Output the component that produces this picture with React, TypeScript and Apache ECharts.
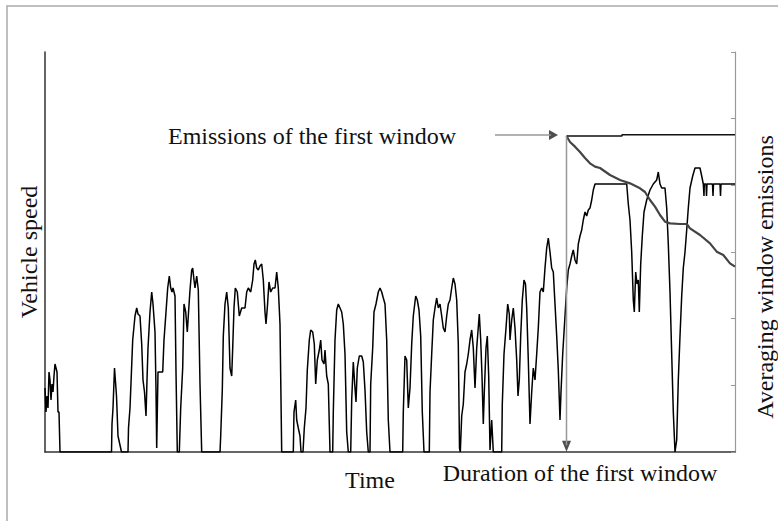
import React, { useEffect, useRef } from "react";
import * as echarts from "echarts";

// Time axis (arbitrary units) and value ranges
const timeRange = [0, 690];
const speedRange = [0, 100];
const emissionRange = [0, 6];

// Vehicle speed trace: [time, speed]
const speedTrace: number[][] = [
  [0, 16], [1, 10], [2, 14], [3, 11], [4, 20], [5, 18], [6, 13], [7, 17], [8, 15], [9, 19], [10, 22], [11, 21], [12, 20], [13, 10], [14, 10], [15, 0],
  [66.5, 0], [67, 7], [68, 11], [69.5, 21], [70.5, 17.5], [71.5, 14], [73, 4], [76.5, 0],
  [83, 0], [83.5, 6], [85, 11], [87.7, 28], [90, 34], [91.7, 36], [93, 34.5], [95, 34], [96.7, 27], [98, 18], [99.5, 15], [101, 9], [102, 18], [103, 26], [105, 35], [106.7, 40], [108, 37], [110, 30], [111, 15.5], [111.7, 1], [113, 20], [115, 20], [117.7, 20], [119, 28], [121, 35], [122.7, 41], [124.3, 44], [125.7, 41], [127, 40], [128, 41], [130, 39], [131, 20], [132.3, 0], [134.3, 0], [135.7, 11], [137.7, 21], [139, 37], [140.7, 35], [142.3, 30], [143.3, 34], [145, 40.5], [146.7, 45.5], [147.7, 46], [149, 43], [150, 41], [151.7, 44], [153.3, 40.5], [155, 17], [156.7, 0],
  [175, 0], [175.7, 4], [177.3, 15.5], [178.3, 29], [180, 37], [181.7, 40], [183.3, 36], [185, 21], [186.7, 19], [187.7, 26], [189, 36], [190.3, 41], [192.3, 40], [194.3, 34], [196.7, 36], [200, 36], [201.7, 40], [203.3, 41], [205.7, 40], [207.7, 43], [209, 47], [210.3, 48], [211.7, 46], [213.3, 45.5], [215, 46.5], [216.7, 47], [218.3, 43], [220, 35], [221, 32], [222.3, 36], [224, 42.5], [225.7, 40], [227.7, 41], [230, 41], [231.7, 45], [233.3, 41], [235, 32], [236.7, 0],
  [248.3, 0], [249, 10], [250.7, 13], [251.7, 8], [253.3, 6], [255, 4], [256, 0], [258, 0], [259.3, 6], [261, 11], [262.3, 20.5], [264.3, 28], [265.7, 30.5], [267.7, 30], [269.3, 27], [270.7, 17], [272.3, 23], [274.3, 25.5], [275.7, 28], [277, 23], [279, 22], [280, 25.5], [281.7, 19], [283.3, 17], [285, 0],
  [287.7, 0], [288.3, 10], [290, 28], [291.7, 35.5], [293.3, 37], [295, 36], [296.7, 35], [298.3, 32], [300, 24.5], [301.7, 5], [303.3, 0],
  [305.7, 0], [306.7, 13], [308.3, 22.5], [309.7, 17], [311, 12.5], [312.3, 21], [314.3, 24], [316.7, 24], [318.3, 22.5], [320, 15.5], [321.7, 5], [323.3, 0],
  [325, 0], [325.7, 17], [327.7, 26], [329, 35], [331, 37], [333.3, 40], [335, 41], [336.7, 40], [338.3, 38.5], [340, 37], [341.7, 28], [343.3, 8], [345, 0],
  [357.7, 0], [358.3, 10], [360, 24], [361.7, 23], [363.3, 11], [365, 16], [366.7, 27], [368.3, 34], [370.7, 39], [372.3, 38], [374, 35.5], [375.7, 29], [377.3, 10], [379, 0],
  [384.3, 0], [385, 15], [386.7, 24.5], [388.3, 33], [390, 36], [391.7, 38.5], [393.3, 36], [395, 37], [396.7, 34], [398.3, 31], [400, 30], [401.7, 34], [403.3, 37], [405, 38], [406.7, 41], [408.3, 43.5], [410, 42], [411.7, 38], [413.3, 27], [414.5, 1], [415.3, 0],
  [416.7, 9], [418.3, 12], [420, 20], [421.7, 22], [423.3, 24.5], [425, 28], [426.7, 30.5], [428.3, 26], [430, 16], [431.7, 26], [434.3, 34.5], [435.7, 28], [437, 19], [438.3, 7], [439.3, 15], [441, 26], [442.3, 29], [443.7, 19], [445, 0.5], [446.7, 8], [448.3, 0],
  [456.7, 0], [457.3, 12], [459, 24.5], [461, 31], [462.7, 37], [464.3, 34.5], [465, 28], [466.7, 33], [468.3, 36], [470, 31], [471.7, 23], [473, 14], [474.3, 18], [475.7, 29], [477.3, 38], [479, 43], [480.5, 42], [481.7, 36], [483.3, 23], [485, 7], [486.7, 15], [488.3, 21], [490, 18], [491.7, 24.5], [493.3, 31], [495, 40], [496.7, 41], [498.3, 40], [500, 46], [501.7, 51], [503.3, 53.5], [505, 50], [506.7, 46], [508.3, 45], [510, 37], [511.7, 29], [513.3, 20.5], [515, 8], [516, 15], [517.7, 24.5], [520, 34], [521.7, 41], [523.3, 45.5], [525, 47], [526.7, 49], [528.3, 50.5], [530, 48], [531.7, 47], [533.3, 52], [535, 54], [536.7, 55.5], [538.3, 58], [540, 60], [541.7, 59], [543.3, 60.5], [545, 61], [546.7, 63], [548.3, 65.5], [550, 67],
  [581.7, 67], [583.3, 62], [585, 58], [586.7, 50], [588.3, 38], [589.3, 35], [590.7, 45], [592, 42], [593.3, 43], [594.3, 35], [595.7, 47], [597.3, 54], [599, 60], [601.7, 63], [605, 65.5], [608.3, 67], [611.7, 68], [613.3, 70], [615, 67], [616.7, 66], [620, 66], [621.7, 61], [623.3, 52], [625, 40], [626.7, 24.5], [628.3, 10], [630, 0], [631.7, 3], [633.3, 18], [635, 29], [636.7, 39], [638.3, 46], [640, 50], [641.7, 55.5], [643.3, 61], [645, 66], [647.7, 69], [650, 71], [655, 71], [656.7, 69], [658.3, 67], [659, 64], [659.3, 67], [661, 67], [661.5, 64], [662, 67], [663.3, 67], [667.5, 67], [668, 64], [668.5, 67], [675, 67], [675.5, 64], [676, 67], [690, 67],
];

// Averaging window emissions: [time, emission]
const emissionTrace: number[][] = [
  [521.5, 4.74], [525, 4.65], [530, 4.58], [535, 4.5], [540, 4.41], [545, 4.33], [550, 4.28], [555, 4.26], [565, 4.155], [575, 4.08], [585, 4.03], [595, 3.955], [600, 3.9], [605, 3.78], [610, 3.68], [615, 3.555], [620, 3.455], [625, 3.43], [635, 3.42], [641.7, 3.42], [645, 3.355], [655, 3.255], [665, 3.13], [671.7, 3.005], [678.3, 2.955], [685, 2.83], [690, 2.78],
];

// Emissions of the first window (reference level)
const firstWindowLevel: number[][] = [[521.5, 4.74], [577, 4.74], [577, 4.76], [690, 4.76]];
// Duration of the first window (vertical marker)
const windowDuration: number[][] = [[521.5, 4.74], [521.5, 0.1]];
// Pointer arrow to the first window emission
const pointerArrow: number[][] = [[450, 4.755], [506, 4.755]];
const arrowHeads = [
  { value: [508.5, 4.755], rotate: -90, size: [10, 9] },
  { value: [521.5, 0.085], rotate: 180, size: [9, 11] },
];

const FONT = "'Times New Roman', 'Liberation Serif', serif";

export default function App() {
  const ref = useRef<HTMLDivElement>(null);
  useEffect(() => {
    if (!ref.current) return;
    const chart = echarts.init(ref.current, null, { renderer: "svg" });
    chart.setOption({
      animation: false,
      backgroundColor: "#fff",
      grid: { left: 45, right: 43, top: 52, bottom: 69 },
      xAxis: {
        type: "value",
        min: timeRange[0],
        max: timeRange[1],
        axisLine: { show: true, lineStyle: { color: "#333", width: 1.5 } },
        axisTick: { show: false },
        axisLabel: { show: false },
        splitLine: { show: false },
      },
      yAxis: [
        {
          type: "value",
          min: speedRange[0],
          max: speedRange[1],
          position: "left",
          axisLine: { show: true, lineStyle: { color: "#333", width: 1.5 } },
          axisTick: { show: false },
          axisLabel: { show: false },
          splitLine: { show: false },
        },
        {
          type: "value",
          min: emissionRange[0],
          max: emissionRange[1],
          interval: 1,
          position: "right",
          axisLine: { show: true, lineStyle: { color: "#999", width: 1.2 } },
          axisTick: { show: true, inside: true, length: 4, lineStyle: { color: "#999" } },
          axisLabel: { show: false },
          splitLine: { show: false },
        },
      ],
      series: [
        {
          name: "Vehicle speed",
          type: "line",
          yAxisIndex: 0,
          data: speedTrace,
          symbol: "none",
          lineStyle: { color: "#000", width: 1.5 },
        },
        {
          name: "Averaging window emissions",
          type: "line",
          yAxisIndex: 1,
          data: emissionTrace,
          symbol: "none",
          lineStyle: { color: "#444", width: 2.2 },
        },
        {
          name: "Emissions of the first window",
          type: "line",
          yAxisIndex: 1,
          data: firstWindowLevel,
          symbol: "none",
          lineStyle: { color: "#111", width: 1.5 },
        },
        {
          name: "Duration of the first window",
          type: "line",
          yAxisIndex: 1,
          data: windowDuration,
          symbol: "none",
          lineStyle: { color: "#999", width: 1.5 },
        },
        {
          name: "pointer",
          type: "line",
          yAxisIndex: 1,
          data: pointerArrow,
          symbol: "none",
          lineStyle: { color: "#999", width: 1.5 },
        },
        {
          name: "heads",
          type: "scatter",
          yAxisIndex: 1,
          symbol: "triangle",
          data: arrowHeads.map((h) => ({
            value: h.value,
            symbolRotate: h.rotate,
            symbolSize: h.size,
          })),
          itemStyle: { color: "#222" },
        },
      ],
      graphic: [
        {
          type: "rect",
          shape: { x: 7, y: 6, width: 800, height: 600 },
          style: { fill: "none", stroke: "#aaa", lineWidth: 1.5 },
          silent: true,
        },
        {
          type: "text",
          x: 168,
          y: 136,
          style: { text: "Emissions of the first window", font: `24px ${FONT}`, fill: "#111", textVerticalAlign: "middle" },
        },
        {
          type: "text",
          x: 370,
          y: 480,
          style: { text: "Time", font: `24px ${FONT}`, fill: "#111", textAlign: "center", textVerticalAlign: "middle" },
        },
        {
          type: "text",
          x: 580,
          y: 473,
          style: { text: "Duration of the first window", font: `24px ${FONT}`, fill: "#111", textAlign: "center", textVerticalAlign: "middle" },
        },
        {
          type: "text",
          x: 29,
          y: 252,
          rotation: Math.PI / 2,
          style: { text: "Vehicle speed", font: `24px ${FONT}`, fill: "#111", textAlign: "center", textVerticalAlign: "middle" },
        },
        {
          type: "text",
          x: 765,
          y: 277,
          rotation: Math.PI / 2,
          style: { text: "Averaging window emissions", font: `24px ${FONT}`, fill: "#111", textAlign: "center", textVerticalAlign: "middle" },
        },
      ],
    });
    return () => chart.dispose();
  }, []);
  return <div ref={ref} style={{ position: "absolute", left: 0, top: 0, width: 778, height: 521 }} />;
}
